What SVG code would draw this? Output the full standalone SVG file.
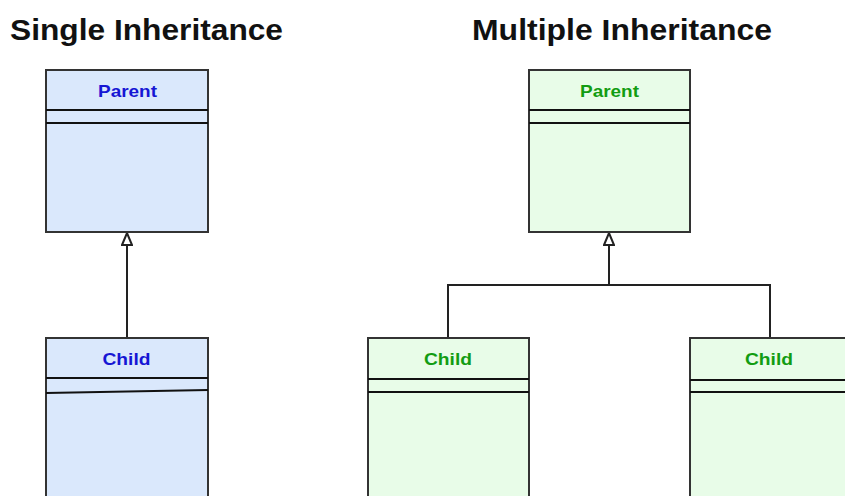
<svg xmlns="http://www.w3.org/2000/svg" width="845" height="496" viewBox="0 0 845 496">
  <style>
    .title { font-family: "Liberation Sans", Arial, sans-serif; font-weight: bold; font-size: 30px; fill: #111; }
    .name { font-family: "Liberation Sans", Arial, sans-serif; font-weight: bold; font-size: 17px; text-anchor: middle; }
    .blue rect { fill: #dae8fc; }
    .green rect { fill: #e8fce8; }
    .blue text { fill: #1616d4; }
    .green text { fill: #129c12; }
    .box { stroke: #333; stroke-width: 2; }
    .sep { stroke: #111; stroke-width: 2; fill: none; }
    .conn { stroke: #222; stroke-width: 2; fill: none; }
  </style>
  <defs>
    <!-- hollow generalization arrowhead, drawn along +x -->
    <marker id="gen" viewBox="0 0 14 12" refX="13" refY="6" markerWidth="14" markerHeight="12" markerUnits="userSpaceOnUse" orient="auto">
      <path d="M1 1 L13 6 L1 11 Z" fill="#fff" stroke="#222" stroke-width="2" stroke-linejoin="miter"/>
    </marker>
  </defs>
  <rect width="845" height="496" fill="#fff"/>

  <text class="title" x="10" y="40" textLength="273" lengthAdjust="spacingAndGlyphs">Single Inheritance</text>
  <text class="title" x="472" y="40" textLength="300" lengthAdjust="spacingAndGlyphs">Multiple Inheritance</text>

  <g id="connectors">
    <path class="conn" d="M127 338 V233" marker-end="url(#gen)"/>
    <path class="conn" d="M448 338 V285 H770 V338"/>
    <path class="conn" d="M609 285 V233" marker-end="url(#gen)"/>
  </g>

  <g id="single-parent" class="blue">
    <rect class="box" x="46" y="70" width="162" height="162"/>
    <path class="sep" d="M46 110 H208 M46 123 H208"/>
    <text class="name" x="127.5" y="97" textLength="59" lengthAdjust="spacingAndGlyphs">Parent</text>
  </g>

  <g id="single-child" class="blue">
    <rect class="box" x="46" y="338" width="162" height="170"/>
    <path class="sep" d="M46 378 H208 M46 393 L208 390"/>
    <text class="name" x="126.5" y="365" textLength="48" lengthAdjust="spacingAndGlyphs">Child</text>
  </g>

  <g id="multi-parent" class="green">
    <rect class="box" x="529" y="70" width="161" height="162"/>
    <path class="sep" d="M529 110 H690 M529 123 H690"/>
    <text class="name" x="609.5" y="97" textLength="59" lengthAdjust="spacingAndGlyphs">Parent</text>
  </g>

  <g id="multi-child-left" class="green">
    <rect class="box" x="368" y="338" width="161" height="170"/>
    <path class="sep" d="M368 379 H529 M368 392 H529"/>
    <text class="name" x="448" y="365" textLength="48" lengthAdjust="spacingAndGlyphs">Child</text>
  </g>

  <g id="multi-child-right" class="green">
    <rect class="box" x="690" y="338" width="170" height="170"/>
    <path class="sep" d="M690 380 H860 M690 392 H860"/>
    <text class="name" x="769" y="365" textLength="48" lengthAdjust="spacingAndGlyphs">Child</text>
  </g>
</svg>
